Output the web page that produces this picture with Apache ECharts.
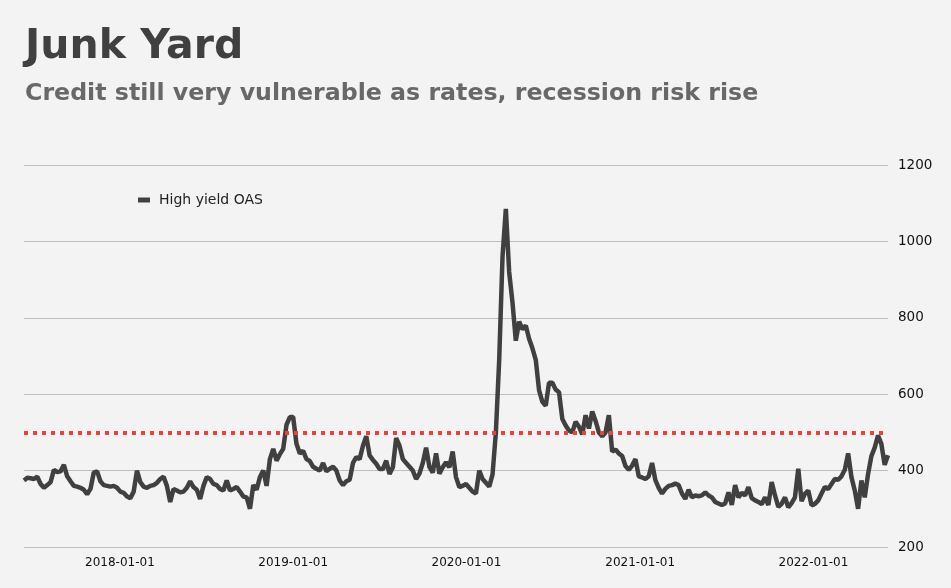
<!DOCTYPE html>
<html>
<head>
<meta charset="utf-8">
<title>Junk Yard</title>
<script src="https://cdn.jsdelivr.net/npm/echarts@6/dist/echarts.min.js"></script>
<style>
  html, body { margin: 0; padding: 0; background: #f3f3f3; }
  #chart { width: 951px; height: 588px; }
</style>
</head>
<body>
<div id="chart"></div>
<script>
// weekly readings of the high yield OAS (bp), first week 2017-06-13
const startDate = new Date(2017, 5, 13)
const stepDays = 7
const hyOas = [
  374, 381, 380, 378, 384, 365, 355, 362, 370, 402,
  396, 398, 415, 385, 372, 360, 358, 355, 350, 338,
  352, 395, 398, 372, 362, 360, 358, 360, 355, 345,
  342, 332, 328, 345, 400, 370, 358, 355, 360, 362,
  368, 378, 384, 360, 318, 352, 348,
  343, 345, 355, 372, 357, 350, 326, 360, 383, 378,
  365, 362, 352, 348, 374, 348, 352, 357, 345, 332,
  330, 300, 362, 350, 383, 400, 360, 430, 457, 426,
  443, 457, 520, 540, 540, 470, 445, 452, 430, 425,
  410, 405, 400, 420, 398,
  405, 410, 400, 374, 362, 372, 376, 420, 435, 430,
  465, 490, 440, 428, 418, 404, 404, 426, 391, 409,
  485, 465, 430, 420, 410, 400, 378, 392, 420, 460,
  410, 395, 445, 392, 409, 422, 409, 450, 383, 357,
  360, 365, 355, 345, 340,
  400, 378, 368, 358, 390, 500, 690, 960, 1085, 920,
  840, 740, 790, 770, 780, 745, 720, 690, 610, 580,
  570, 630, 630, 612, 605, 535, 518, 505, 500, 528,
  515, 495, 545, 510, 555, 530, 500, 490, 500, 545,
  450, 455, 445, 438, 412, 402,
  413, 430, 385, 382, 378, 385, 420, 375, 355, 340,
  352, 360, 362, 366, 362, 340, 326, 350, 330, 335,
  333, 335, 343, 335, 330, 318, 314, 310, 314, 343,
  310, 362, 330, 342, 335, 357, 328, 322, 318, 312,
  330, 310, 370, 335, 305,
  313, 330, 304, 315, 330, 405, 320, 339, 348, 309,
  313, 322, 340, 357, 352, 365, 378, 376, 385, 402,
  445, 383, 348, 300, 374, 330, 391, 438, 460, 492,
  470, 415, 440
]
const xTicks = ['2018-01-01', '2019-01-01', '2020-01-01', '2021-01-01', '2022-01-01']
const yTicks = [200, 400, 600, 800, 1000, 1200]
const threshold = 500

const dayMs = 24 * 3600 * 1000
const seriesData = hyOas.map((v, i) => [startDate.getTime() + i * stepDays * dayMs, v])
const tickValues = xTicks.map(s => {
  const p = s.split('-').map(Number)
  return new Date(p[0], p[1] - 1, p[2]).getTime()
})

const chart = echarts.init(document.getElementById('chart'))
chart.setOption({
  backgroundColor: '#f3f3f3',
  animation: false,
  textStyle: { fontFamily: 'DejaVu Sans' },
  title: {
    text: 'Junk Yard',
    subtext: 'Credit still very vulnerable as rates, recession risk rise',
    left: 20,
    top: 22,
    itemGap: 14,
    textStyle: { fontSize: 41, fontWeight: 'bold', color: '#404040', fontFamily: 'DejaVu Sans' },
    subtextStyle: { fontSize: 23.7, fontWeight: 'bold', color: '#686868', fontFamily: 'DejaVu Sans' }
  },
  legend: {
    left: 133,
    top: 188,
    icon: 'rect',
    itemWidth: 12,
    itemHeight: 5,
    textStyle: { fontSize: 14, color: '#222', padding: [0, 0, 0, 4] },
    data: ['High yield OAS']
  },
  grid: { left: 24, right: 63, top: 165, bottom: 41 },
  xAxis: {
    type: 'value',
    min: seriesData[0][0],
    max: seriesData[seriesData.length - 1][0],
    axisLine: { show: false },
    axisTick: { show: false },
    splitLine: { show: false },
    axisLabel: {
      customValues: tickValues,
      margin: 10,
      fontSize: 12,
      color: '#111',
      formatter: v => xTicks[tickValues.indexOf(v)] || ''
    }
  },
  yAxis: {
    type: 'value',
    position: 'right',
    min: yTicks[0],
    max: yTicks[yTicks.length - 1],
    interval: 200,
    axisLine: { show: false },
    axisTick: { show: false },
    axisLabel: { margin: 10, fontSize: 13.5, color: '#111', formatter: v => String(v) },
    splitLine: { lineStyle: { color: '#bdbdbd', width: 1 } }
  },
  series: [{
    name: 'High yield OAS',
    type: 'line',
    data: seriesData,
    showSymbol: false,
    color: '#404040',
    lineStyle: { width: 4.5, color: '#404040' },
    markLine: {
      silent: true,
      symbol: 'none',
      label: { show: false },
      lineStyle: { color: '#f0403a', width: 4, type: [4, 5] },
      data: [{ yAxis: threshold }]
    }
  }]
})
</script>
</body>
</html>
